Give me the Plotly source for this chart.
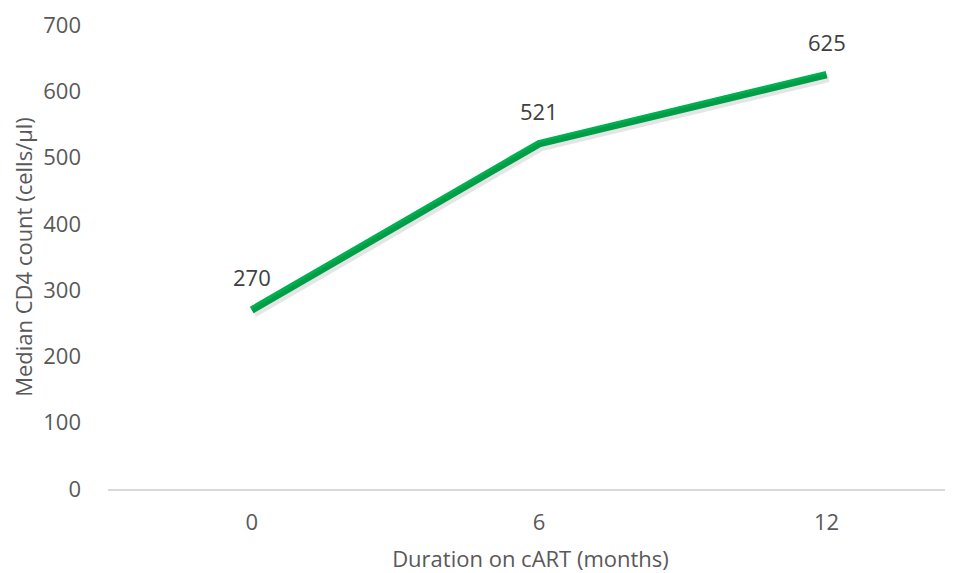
import plotly.graph_objects as go

months = ["0", "6", "12"]
cd4 = [270, 521, 625]
y_ticks = [0, 100, 200, 300, 400, 500, 600, 700]

FONT = "Open Sans"
xs = list(range(len(months)))
x_range = [-0.5, 2.44]
y_range = [0, 700]

fig = go.Figure()
# soft shadow under the line (same data, slightly offset hidden axes)
fig.add_trace(go.Scatter(
    x=xs, y=cd4, mode="lines", xaxis="x2", yaxis="y2",
    line=dict(color="rgba(0,0,0,0.10)", width=9),
    hoverinfo="skip", showlegend=False,
))
fig.add_trace(go.Scatter(
    x=xs, y=cd4, mode="lines",
    line=dict(color="#00B050", width=7.5),
    hoverinfo="skip", showlegend=False,
))
for x, v in zip(xs, cd4):
    fig.add_annotation(x=x, y=v, text=str(v), showarrow=False, yshift=33,
                       font=dict(family=FONT, size=22, color="#404040"))

px_per_y = 464 / 700
px_per_x = 287.5
dy = 3 / px_per_y
dx = 2 / px_per_x

fig.update_layout(
    width=945, height=565,
    margin=dict(l=100, r=0, t=17, b=84),
    paper_bgcolor="white", plot_bgcolor="white",
    font=dict(family=FONT, size=22, color="#595959"),
    xaxis=dict(
        range=x_range, tickmode="array", tickvals=xs, ticktext=months,
        showgrid=False, zeroline=False, showline=True, linecolor="#D9D9D9",
        linewidth=2, ticks="", ticklabelstandoff=13, automargin=False,
        tickfont=dict(size=22, color="#595959"),
        title=dict(text="Duration on cART (months)", standoff=24,
                   font=dict(size=22, color="#595959")),
    ),
    yaxis=dict(
        range=y_range, tickvals=y_ticks, showgrid=False, zeroline=False,
        showline=False, ticks="", ticklabelstandoff=26, automargin=False,
        tickfont=dict(size=22, color="#595959"),
        title=dict(text="Median CD4 count (cells/µl)", standoff=9,
                   font=dict(size=22, color="#595959")),
    ),
    xaxis2=dict(range=[x_range[0] - dx, x_range[1] - dx], overlaying="x",
                visible=False),
    yaxis2=dict(range=[y_range[0] + dy, y_range[1] + dy], overlaying="y",
                visible=False),
)
fig.write_html("out.html")
